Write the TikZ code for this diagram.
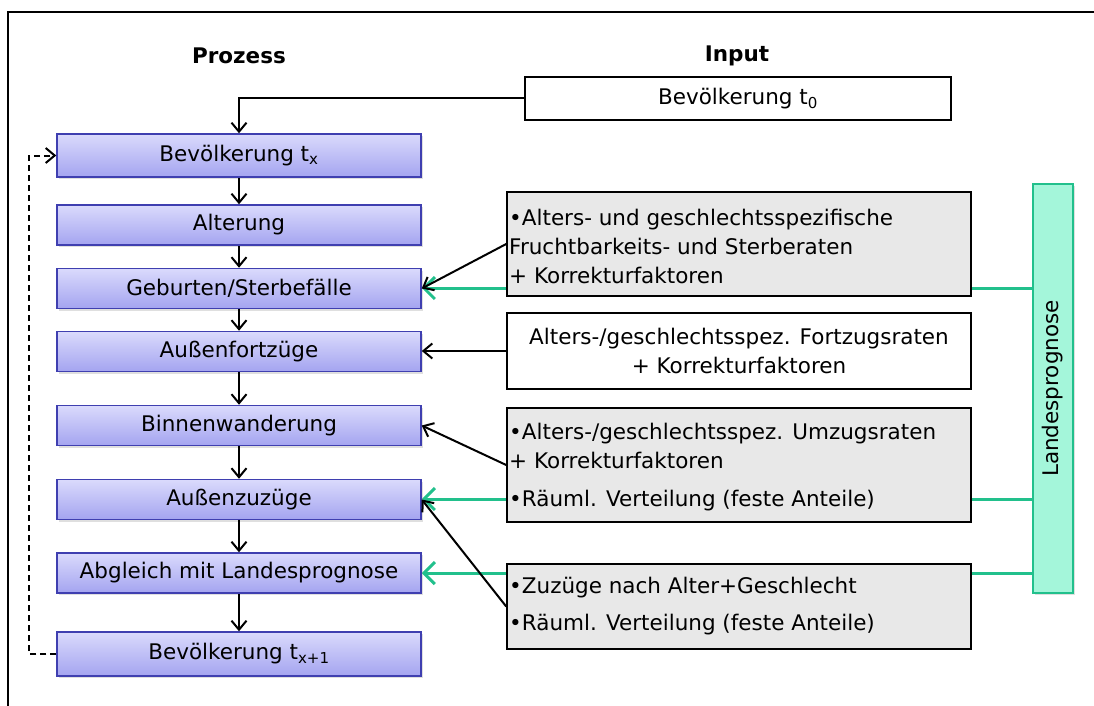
\documentclass[tikz,border=0pt]{standalone}
\usepackage{fontspec}
\setmainfont{DejaVu Sans}
\usetikzlibrary{arrows.meta,backgrounds,shadows}
\definecolor{procfillT}{HTML}{DADAFC}
\definecolor{procfillB}{HTML}{A4A4F0}
\definecolor{procdraw}{HTML}{3F3FB0}
\definecolor{lgreen}{HTML}{22C08C}
\definecolor{lpfill}{HTML}{A4F6DA}
\definecolor{grayfill}{HTML}{E8E8E8}
\tikzset{
  base/.style={font=\fontsize{21.5}{29}\selectfont},
  procbox/.style={base, draw=procdraw, line width=1.5pt, top color=procfillT, bottom color=procfillB,
    minimum width=364pt, minimum height=40pt, inner sep=0pt,
    drop shadow={shadow xshift=1.5pt, shadow yshift=-2pt, opacity=0.25}},
  inbox/.style={base, draw=black, line width=1.6pt, minimum width=464pt, inner sep=0pt},
  graybox/.style={inbox, fill=grayfill},
  txt/.style={base, align=left, anchor=west, inner sep=0pt},
  flow/.style={line width=2pt, -{Straight Barb[length=9pt,width=15pt,line width=2pt]}},
  greenflow/.style={draw=lgreen, line width=3pt, -{Straight Barb[length=11pt,width=22pt,line width=3pt]}},
  header/.style={font=\fontsize{21.5}{25}\selectfont\bfseries}
}
\begin{document}
\begin{tikzpicture}[x=1pt,y=-1pt]
\useasboundingbox (0,0) rectangle (1094,706);
% frame
\draw[line width=2pt] (8,706) -- (8,12) -- (1094,12);

% headers
\node[header] (hp) at (239,56) {Prozess};
\node[header] (hi) at (737,56) {Input};

% process boxes
\node[procbox, minimum height=43pt] (p1) at (239,155.5) {Bevölkerung t\textsubscript{x}};
\node[procbox] (p2) at (239,225) {Alterung};
\node[procbox] (p3) at (239,288.5) {Geburten/Sterbefälle};
\node[procbox] (p4) at (239,351.5) {Außenfortzüge};
\node[procbox] (p5) at (239,425.5) {Binnenwanderung};
\node[procbox] (p6) at (239,499.5) {Außenzuzüge};
\node[procbox] (p7) at (239,573) {Abgleich mit Landesprognose};
\node[procbox, minimum height=44pt] (p8) at (239,654) {Bevölkerung t\textsubscript{x+1}};

% input boxes
\node[inbox, minimum width=426pt, minimum height=43pt] (t0) at (738,98.5) {Bevölkerung t\textsubscript{0}};
\node[graybox, minimum height=104pt] (g1) at (739,244) {};
\node[txt] (g1t) at (509,246) {•Alters- und geschlechtsspezifische\\Fruchtbarkeits- und Sterberaten\\+ Korrekturfaktoren};
\node[inbox, minimum height=76pt, align=center] (w2) at (739,351) {Alters-/geschlechtsspez. Fortzugsraten\\+ Korrekturfaktoren};
\node[graybox, minimum height=114pt] (g3) at (739,465) {};
\node[txt] (g3t) at (509,467) {•Alters-/geschlechtsspez. Umzugsraten\\+ Korrekturfaktoren\\[9pt]•Räuml. Verteilung (feste Anteile)};
\node[graybox, minimum height=85pt] (g4) at (739,606.5) {};
\node[txt] (g4t) at (509,606.5) {•Zuzüge nach Alter+Geschlecht\\[8pt]•Räuml. Verteilung (feste Anteile)};

% Landesprognose
\node[draw=lgreen, line width=2pt, fill=lpfill, minimum width=40pt, minimum height=409pt, inner sep=0pt,
      drop shadow={shadow xshift=1.5pt, shadow yshift=-2pt, opacity=0.25}] (lp) at (1053,388.5) {};
\node[base, rotate=90] (lpt) at (lp.center) {Landesprognose};

% process flow
\draw[flow] (t0.west) -| (p1.north);
\draw[flow] (p1) -- (p2);
\draw[flow] (p2) -- (p3);
\draw[flow] (p3) -- (p4);
\draw[flow] (p4) -- (p5);
\draw[flow] (p5) -- (p6);
\draw[flow] (p6) -- (p7);
\draw[flow] (p7) -- (p8);
\draw[line width=2pt, dash pattern=on 6pt off 4pt, -{Straight Barb[length=9pt,width=15pt,line width=2pt]}]
  (p8.west) -- ++(-27,0) |- (p1.west);

% input arrows
\draw[flow] (g1.west) -- (p3.east);
\draw[flow] (w2.west) -- (w2.west -| p4.east);
\draw[flow] (g3.west) -- (p5.east);
\draw[flow] (g4.west) -- (p6.east);

% green connectors behind gray boxes
\begin{pgfonlayer}{background}
\draw[greenflow] (lp.west |- 0,288) -- (p3.east |- 0,288);
\draw[greenflow] (lp.west |- 0,499) -- (p6.east |- 0,499);
\draw[greenflow] (lp.west |- 0,573) -- (p7.east |- 0,573);
\end{pgfonlayer}
\end{tikzpicture}
\end{document}
